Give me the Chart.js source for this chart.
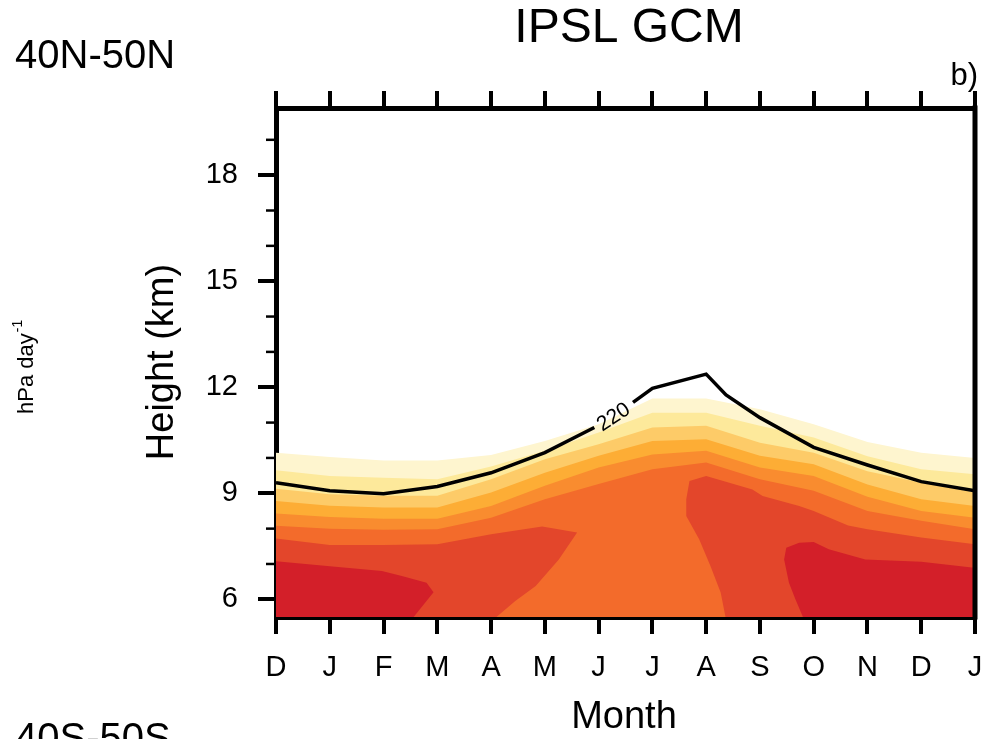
<!DOCTYPE html>
<html>
<head>
<meta charset="utf-8">
<title>IPSL GCM</title>
<script src="https://cdn.jsdelivr.net/npm/chart.js@4.4.1/dist/chart.umd.min.js"></script>
<style>
  html, body { margin: 0; padding: 0; background: #fff; }
  #myChart { display: block; }
</style>
</head>
<body>
<canvas id="myChart" width="999" height="739" style="width:999px;height:739px"></canvas>
<script>
// months along the x axis (Dec .. following Jan)
var months = ['D', 'J', 'F', 'M', 'A', 'M', 'J', 'J', 'A', 'S', 'O', 'N', 'D', 'J'];
var monthPos = months.map(function (m, i) { return i; });
var heightTicks = [6, 9, 12, 15, 18];
var heightMinor = [7, 8, 10, 11, 13, 14, 16, 17, 19];

// upper edge (km) of each filled contour band, one value per month
var band1Top = [10.15, 10.03, 9.93, 9.93, 10.08, 10.48, 10.95, 11.68, 11.68, 11.38, 10.95, 10.45, 10.15, 10.0];
var band2Top = [9.65, 9.49, 9.44, 9.40, 9.76, 10.2, 10.72, 11.28, 11.28, 10.91, 10.58, 10.05, 9.68, 9.54];
var band3Top = [9.13, 8.97, 8.93, 8.93, 9.40, 9.96, 10.39, 10.86, 10.91, 10.43, 10.15, 9.62, 9.3, 9.02];
var band4Top = [8.78, 8.65, 8.6, 8.6, 9.02, 9.58, 10.06, 10.48, 10.53, 10.06, 9.82, 9.25, 8.83, 8.64];
var band5Top = [8.43, 8.33, 8.28, 8.28, 8.64, 9.21, 9.73, 10.1, 10.2, 9.73, 9.49, 8.9, 8.5, 8.31];
var band6Top = [8.08, 8.0, 7.97, 7.98, 8.31, 8.83, 9.26, 9.68, 9.87, 9.40, 9.07, 8.5, 8.22, 7.98];

// closed contours of the two warmest levels (month position, km)
var redWestX = [0, 1, 2, 3, 4, 4.95, 5.6, 5.26, 4.83, 4.45, 4.1, 0];
var redWestY = [7.72, 7.54, 7.54, 7.56, 7.84, 8.06, 7.89, 7.13, 6.38, 5.95, 5.5, 5.5];
var redEastX = [8.36, 8.27, 8.08, 7.87, 7.63, 7.63, 7.69, 8.0, 8.43, 8.86, 9.05, 9.73, 10.0, 10.64, 11, 12, 13, 13];
var redEastY = [5.5, 6.19, 6.94, 7.7, 8.36, 8.83, 9.35, 9.49, 9.3, 9.11, 8.92, 8.64, 8.5, 8.09, 7.98, 7.75, 7.56, 5.5];
var darkWestX = [0, 0.95, 1.97, 2.34, 2.8, 2.93, 2.56, 0];
var darkWestY = [7.08, 6.94, 6.8, 6.66, 6.47, 6.2, 5.5, 5.5];
var darkEastX = [9.8, 9.66, 9.54, 9.45, 9.49, 9.73, 10.0, 10.28, 10.96, 12, 12.94, 13, 13];
var darkEastY = [5.5, 6.0, 6.47, 7.13, 7.46, 7.6, 7.62, 7.42, 7.13, 7.06, 6.9, 6.9, 5.5];

// 220 contour line (gap where the label sits)
var line220X = [0, 1, 2, 3, 4, 5, 5.92, 6.3, 6.64, 7, 8, 8.37, 9, 10, 11, 12, 13];
var line220Y = [9.30, 9.07, 8.99, 9.19, 9.58, 10.15, 10.86, null, 11.57, 11.97, 12.37, 11.78, 11.14, 10.3, 9.8, 9.33, 9.07];

(function () {

    var fontFamily = '"Liberation Sans", Arial, Helvetica, sans-serif';
    var yMin = 5.5, yMax = 19.9;
    Chart.defaults.font.family = fontFamily;
    Chart.defaults.color = '#000';

    function polygon(xs, ys) {
        return xs.map(function (x, i) { return { x: x, y: ys[i] }; });
    }

    function band(tops) {
        var pts = tops.map(function (v, i) { return { x: monthPos[i], y: v }; });
        pts.push({ x: monthPos[monthPos.length - 1], y: yMin });
        pts.push({ x: monthPos[0], y: yMin });
        return pts;
    }

    function shape(pts, color, order) {
        return {
            data: pts,
            showLine: true,
            fill: 'shape',
            backgroundColor: color,
            borderWidth: 0,
            pointRadius: 0,
            order: order
        };
    }

    var decorations = {
        id: 'decorations',
        afterDraw: function (chart) {
            var ctx = chart.ctx;
            var area = chart.chartArea;
            var xs = chart.scales.x, ys = chart.scales.y;
            ctx.save();
            ctx.strokeStyle = '#000';
            ctx.lineWidth = 5;
            ctx.beginPath();
            ctx.moveTo(area.right, area.top - 2.5);
            ctx.lineTo(area.right, area.bottom + 2.5);
            ctx.stroke();

            // minor ticks on the height axis
            ctx.lineWidth = 2.5;
            heightMinor.forEach(function (v) {
                var py = ys.getPixelForValue(v);
                ctx.beginPath();
                ctx.moveTo(area.left - 10, py);
                ctx.lineTo(area.left, py);
                ctx.stroke();
            });

            ctx.fillStyle = '#000';
            ctx.textBaseline = 'alphabetic';

            // contour label
            ctx.save();
            ctx.translate(xs.getPixelForValue(6.28), ys.getPixelForValue(11.15));
            ctx.rotate(-33 * Math.PI / 180);
            ctx.font = '21px ' + fontFamily;
            ctx.textAlign = 'center';
            ctx.textBaseline = 'middle';
            ctx.fillText('220', 0, 0);
            ctx.restore();

            ctx.textAlign = 'center';
            ctx.font = '48px ' + fontFamily;
            ctx.fillText('IPSL GCM', 629, 42);

            ctx.font = '38px ' + fontFamily;
            ctx.fillText('Month', 624, 728);

            ctx.save();
            ctx.translate(173, 362);
            ctx.rotate(-Math.PI / 2);
            ctx.fillText('Height (km)', 0, 0);
            ctx.restore();

            ctx.textAlign = 'left';
            ctx.font = '40px ' + fontFamily;
            ctx.fillText('40N-50N', 15, 68);
            ctx.fillText('40S-50S', 15, 751);

            ctx.textAlign = 'right';
            ctx.font = '31px ' + fontFamily;
            ctx.fillText('b)', 978, 85);

            // units label of the neighbouring panel
            ctx.save();
            ctx.translate(33, 414);
            ctx.rotate(-Math.PI / 2);
            ctx.textAlign = 'left';
            ctx.font = '22px ' + fontFamily;
            ctx.fillText('hPa day', 0, 0);
            var w = ctx.measureText('hPa day').width;
            ctx.font = '14px ' + fontFamily;
            ctx.fillText('-1', w + 1, -11);
            ctx.restore();

            ctx.restore();
        }
    };

    var monthTicks = function (scale) {
        scale.ticks = monthPos.map(function (v) { return { value: v }; });
    };
    var noPad = function (scale) {
        scale.paddingLeft = 0;
        scale.paddingRight = 0;
        scale.paddingTop = 0;
        scale.paddingBottom = 0;
    };
    var gridOpts = function (len) {
        return { drawOnChartArea: false, tickLength: len, lineWidth: 4, tickWidth: 4, tickColor: '#000', color: '#000' };
    };

    var ctx1 = document.getElementById('myChart');
    var myChart = new Chart(ctx1, {
        type: 'scatter',
        data: {
            datasets: [
                {
                    data: polygon(line220X, line220Y),
                    showLine: true,
                    fill: false,
                    spanGaps: false,
                    borderColor: '#000',
                    borderWidth: 3.5,
                    pointRadius: 0,
                    order: 0
                },
                shape(polygon(darkEastX, darkEastY), '#d31f29', 1),
                shape(polygon(darkWestX, darkWestY), '#d31f29', 1),
                shape(polygon(redEastX, redEastY), '#e3462b', 2),
                shape(polygon(redWestX, redWestY), '#e3462b', 2),
                shape(band(band6Top), '#f36b2b', 3),
                shape(band(band5Top), '#f98c2f', 4),
                shape(band(band4Top), '#fdad35', 5),
                shape(band(band3Top), '#fdcb68', 6),
                shape(band(band2Top), '#fde99b', 7),
                shape(band(band1Top), '#fef5cf', 8)
            ]
        },
        options: {
            responsive: false,
            animation: false,
            layout: { padding: { left: 0, right: 24, top: 0, bottom: 0 } },
            plugins: {
                legend: { display: false },
                tooltip: { enabled: false },
                title: { display: false }
            },
            scales: {
                x: {
                    type: 'linear',
                    position: 'bottom',
                    min: 0,
                    max: 13,
                    afterBuildTicks: monthTicks,
                    ticks: {
                        callback: function (value, index) { return months[index]; },
                        font: { size: 29 },
                        color: '#000',
                        padding: 17,
                        maxRotation: 0,
                        autoSkip: false
                    },
                    grid: gridOpts(17),
                    border: { width: 5, color: '#000' },
                    afterFit: function (scale) { noPad(scale); scale.height = 122; }
                },
                xTop: {
                    type: 'linear',
                    position: 'top',
                    min: 0,
                    max: 13,
                    afterBuildTicks: monthTicks,
                    ticks: { display: false },
                    grid: gridOpts(17),
                    border: { width: 5, color: '#000' },
                    afterFit: function (scale) { noPad(scale); scale.height = 108; }
                },
                y: {
                    type: 'linear',
                    position: 'left',
                    min: yMin,
                    max: yMax,
                    afterBuildTicks: function (scale) {
                        scale.ticks = heightTicks.map(function (v) { return { value: v }; });
                    },
                    ticks: { font: { size: 29 }, color: '#000', padding: 20 },
                    grid: gridOpts(18),
                    border: { width: 5, color: '#000' },
                    afterFit: function (scale) { noPad(scale); scale.width = 276; }
                }
            }
        },
        plugins: [decorations]
    });
}());
</script>
</body>
</html>
